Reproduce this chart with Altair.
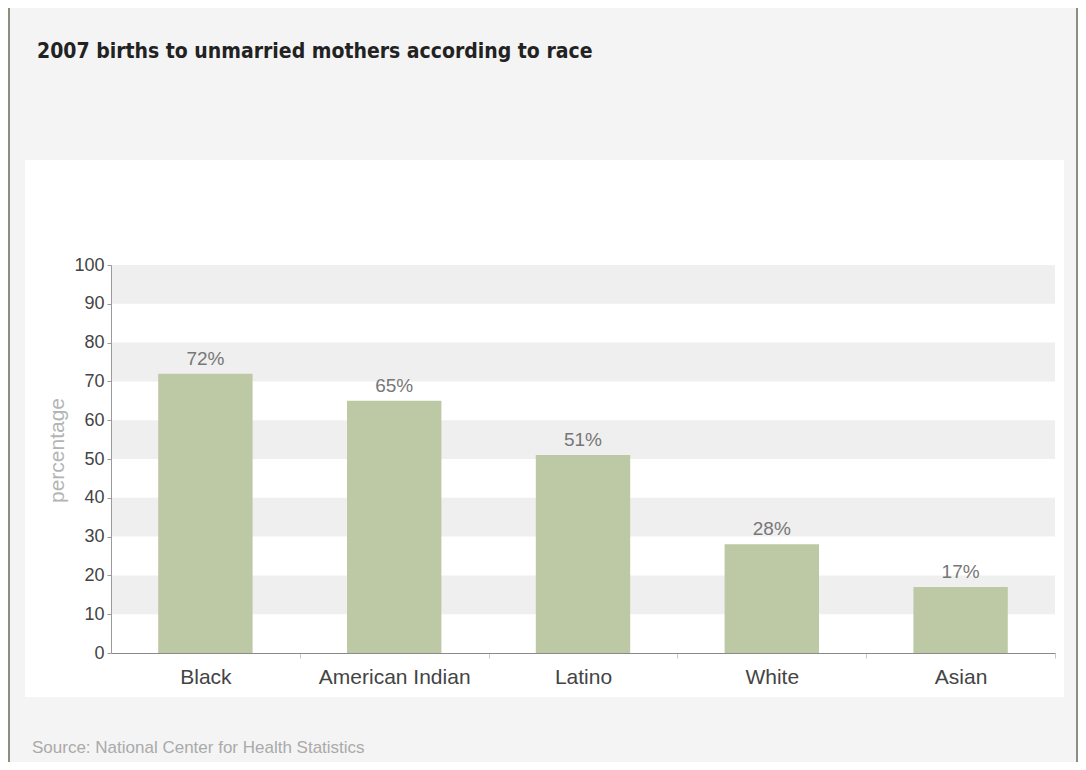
import altair as alt
import pandas as pd

# ---- data ----
categories = ["Black", "American Indian", "Latino", "White", "Asian"]
values = [72, 65, 51, 28, 17]
value_labels = ["72%", "65%", "51%", "28%", "17%"]
band_lo = [10, 30, 50, 70, 90]
band_hi = [20, 40, 60, 80, 100]
y_ticks = [0, 10, 20, 30, 40, 50, 60, 70, 80, 90, 100]
title_text = "2007 births to unmarried mothers according to race"
source_text = "Source: National Center for Health Statistics"
y_title = "percentage"

df = pd.DataFrame({"race": categories, "pct": values, "label": value_labels})
bands = pd.DataFrame({"lo": band_lo, "hi": band_hi})
one = pd.DataFrame({"t": [0]})

W, H = 944, 388
STEP = W / 5.0
FONT = "Liberation Sans"
COND = "DejaVu Sans Condensed"

yscale = alt.Scale(domain=[0, 100], nice=False)
yaxis = alt.Axis(
    values=y_ticks, title=y_title, grid=False, zindex=1,
    domainColor="#9a9a9a", tickColor="#9a9a9a", tickSize=4,
    labelColor="#444444", labelFontSize=18, labelFont=FONT, labelPadding=3,
    titleColor="#b4b4b4", titleFontSize=21, titleFont=FONT,
    titleFontWeight="normal", titlePadding=6, titleY=185,
)
xenc = alt.X(
    "race:N", sort=categories, title=None,
    scale=alt.Scale(paddingInner=0.5, paddingOuter=0.25),
    axis=alt.Axis(
        labelAngle=0, grid=False, zindex=1,
        tickOffset=STEP / 2, labelOffset=-STEP / 2,
        domainColor="#8a8a8a", tickColor="#c8c8c8", tickSize=5,
        labelColor="#444444", labelFontSize=21, labelFont=FONT, labelPadding=8,
    ),
)

panel = alt.Chart(one).mark_rect(color="#f4f4f4").encode(
    x=alt.value(-101), x2=alt.value(965), y=alt.value(-257), y2=alt.value(500)
)
inner = alt.Chart(one).mark_rect(color="#ffffff").encode(
    x=alt.value(-86), x2=alt.value(953), y=alt.value(-105), y2=alt.value(432)
)
stripes = alt.Chart(bands).mark_rect(color="#efefef").encode(
    x=alt.value(0), x2=alt.value(W),
    y=alt.Y("lo:Q", scale=yscale, axis=yaxis), y2="hi:Q",
)
bars = alt.Chart(df).mark_bar(color="#bdc9a5").encode(
    x=xenc, y=alt.Y("pct:Q", scale=yscale, axis=yaxis)
)
texts = alt.Chart(df).mark_text(
    baseline="bottom", dy=-5, fontSize=19, font=FONT, color="#777777"
).encode(x=xenc, y=alt.Y("pct:Q", scale=yscale, axis=yaxis), text="label:N")

title = alt.Chart(one).mark_text(
    text=title_text, align="left", baseline="alphabetic",
    font=COND, fontSize=21, fontWeight="bold", color="#222222",
).encode(x=alt.value(-74), y=alt.value(-207))
source = alt.Chart(one).mark_text(
    text=source_text, align="left", baseline="alphabetic",
    font=FONT, fontSize=17, color="#aaaaaa",
).encode(x=alt.value(-79), y=alt.value(488))

chart = alt.layer(panel, inner, stripes, bars, texts, title, source).properties(
    width=W, height=H,
    padding={"left": 103, "top": 257, "right": 23, "bottom": 109},
    autosize=alt.AutoSizeParams(type="none"),
    background="#8c8e80",
).configure_view(strokeWidth=0)

chart.save("out.html", embed_options={"renderer": "svg", "actions": False})
